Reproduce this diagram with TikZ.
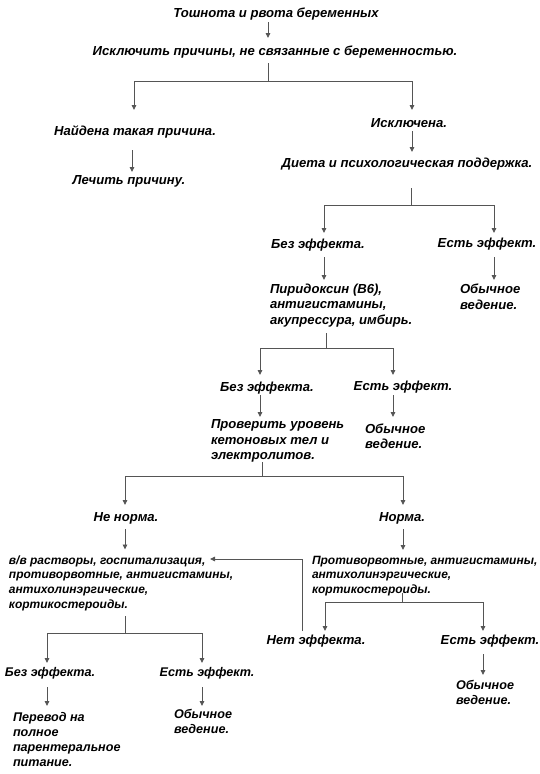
\documentclass[tikz,border=0pt]{standalone}
\usepackage{fontspec}
\setmainfont{Liberation Sans}
\usetikzlibrary{arrows.meta}
\definecolor{lc}{RGB}{85,85,85}
\newcommand{\tfont}{\bfseries\itshape\fontsize{13.1}{15.5}\selectfont}
\newcommand{\tfontm}{\bfseries\itshape\fontsize{12.6}{15}\selectfont}
\newcommand{\tfonts}{\bfseries\itshape\fontsize{12}{14.6}\selectfont}
\tikzset{
  txt/.style={inner sep=0pt, outer sep=0pt, font=\tfont, text height=9.5pt, text depth=2.5pt, anchor=base},
  blk/.style={inner sep=0pt, outer sep=0pt, font=\tfont, align=left, anchor=north west},
  ln/.style={draw=lc, line width=0.9pt},
  arr/.style={ln, -{Triangle[length=5pt,width=4.5pt]}},
}
\begin{document}
\begin{tikzpicture}[x=1pt,y=-1pt]
\useasboundingbox (0,0) rectangle (540,774);
% nodes
\node[txt] (t0) at (276,17) {Тошнота и рвота беременных};
\node[txt] (t1) at (275,55) {Исключить причины, не связанные с беременностью.};
\node[txt] (a1) at (135,135) {Найдена такая причина.};
\node[txt] (a2) at (129,184) {Лечить причину.};
\node[txt] (b1) at (409,127) {Исключена.};
\node[txt] (b2) at (407,167) {Диета и психологическая поддержка.};
\node[txt] (c1) at (318,248) {Без эффекта.};
\node[txt] (c2) at (487,247) {Есть эффект.};
\node[blk] (c3) at (270,284) {Пиридоксин (B6),\\антигистамины,\\акупрессура, имбирь.};
\node[blk] (c4) at (460,284) {Обычное\\ведение.};
\node[txt] (d1) at (267,391) {Без эффекта.};
\node[txt] (d2) at (403,390) {Есть эффект.};
\node[blk] (d3) at (211,419.5) {Проверить уровень\\кетоновых тел и\\электролитов.};
\node[blk] (d4) at (365,423.5) {Обычное\\ведение.};
\node[txt] (e1) at (126,521) {Не норма.};
\node[txt] (e2) at (402,521) {Норма.};
\node[blk, font=\tfonts] (e3) at (9,555.5) {в/в растворы, госпитализация,\\противорвотные, антигистамины,\\антихолинэргические,\\кортикостероиды.};
\node[blk, font=\tfonts] (e4) at (312,556) {Противорвотные, антигистамины,\\антихолинэргические,\\кортикостероиды.};
\node[txt] (g1) at (316,644) {Нет эффекта.};
\node[txt] (g2) at (490,644) {Есть эффект.};
\node[blk, font=\tfontm] (g3) at (456,680.5) {Обычное\\ведение.};
\node[txt, font=\tfontm] (h1) at (50,676) {Без эффекта.};
\node[txt, font=\tfontm] (h2) at (207,676) {Есть эффект.};
\node[blk, font=\tfontm] (h3) at (13,712.5) {Перевод на\\полное\\парентеральное\\питание.};
\node[blk, font=\tfontm] (h4) at (174,709.5) {Обычное\\ведение.};
% junctions
\coordinate (J1) at (268,81);
\coordinate (J2) at (411,205);
\coordinate (J3) at (326,348);
\coordinate (J4) at (262,476);
\coordinate (J5) at (125,633);
\coordinate (J6) at (402,602);
\coordinate (FB) at (302,559);
\coordinate (FBt) at (210,559);
% connectors
\draw[arr, shorten <=2.5pt, shorten >=7.5pt] (268,0 |- t0.south) -- (268,0 |- t1.north);
\draw[ln, shorten <=5.5pt] (J1 |- t1.south) -- (J1);
\draw[arr, shorten >=15.5pt] (J1) -| (134,0 |- a1.north);
\draw[arr, shorten >=7.5pt] (J1) -| (412,0 |- b1.north);
\draw[arr, shorten <=12.5pt, shorten >=2.5pt] (132,0 |- a1.south) -- (132,0 |- a2.north);
\draw[arr, shorten <=1.5pt, shorten >=5.5pt] (412,0 |- b1.south) -- (412,0 |- b2.north);
\draw[ln, shorten <=18.5pt] (J2 |- b2.south) -- (J2);
\draw[arr, shorten >=5.5pt] (J2) -| (324,0 |- c1.north);
\draw[arr, shorten >=4.5pt] (J2) -| (494,0 |- c2.north);
\draw[arr, shorten <=6.5pt, shorten >=4pt] (324,0 |- c1.south) -- (324,0 |- c3.north);
\draw[arr, shorten <=7.5pt, shorten >=4pt] (494,0 |- c2.south) -- (494,0 |- c4.north);
\draw[ln, shorten <=6pt] (J3 |- c3.south) -- (J3);
\draw[arr, shorten >=6.5pt] (J3) -| (260,0 |- d1.north);
\draw[arr, shorten >=5.5pt] (J3) -| (393,0 |- d2.north);
\draw[arr, shorten <=1.5pt, shorten >=2.5pt] (260,0 |- d1.south) -- (260,0 |- d3.north);
\draw[arr, shorten <=2.5pt, shorten >=6.5pt] (393,0 |- d2.south) -- (393,0 |- d4.north);
\draw[ln] (J4 |- d3.south) -- (J4);
\draw[arr, shorten >=6.5pt] (J4) -| (125,0 |- e1.north);
\draw[arr, shorten >=6.5pt] (J4) -| (403,0 |- e2.north);
\draw[arr, shorten <=5.5pt, shorten >=6pt] (125,0 |- e1.south) -- (125,0 |- e3.north);
\draw[arr, shorten <=5.5pt, shorten >=6pt] (403,0 |- e2.south) -- (403,0 |- e4.north);
\draw[ln, shorten <=6pt] (J5 |- e3.south) -- (J5);
\draw[arr, shorten >=3.5pt] (J5) -| (47,0 |- h1.north);
\draw[arr, shorten >=3.5pt] (J5) -| (202,0 |- h2.north);
\draw[ln, shorten <=-3pt] (J6 |- e4.south) -- (J6);
\draw[arr, shorten >=3.5pt] (J6) -| (325,0 |- g1.north);
\draw[arr, shorten >=3.5pt] (J6) -| (483,0 |- g2.north);
\draw[arr, shorten <=3.5pt] (FB |- g1.north) -- (FB) -- (FBt);
\draw[arr, shorten <=8.5pt, shorten >=6.5pt] (47,0 |- h1.south) -- (47,0 |- h3.north);
\draw[arr, shorten <=8.5pt, shorten >=3.5pt] (202,0 |- h2.south) -- (202,0 |- h4.north);
\draw[arr, shorten <=7.5pt, shorten >=5.5pt] (483,0 |- g2.south) -- (483,0 |- g3.north);
\end{tikzpicture}
\end{document}
